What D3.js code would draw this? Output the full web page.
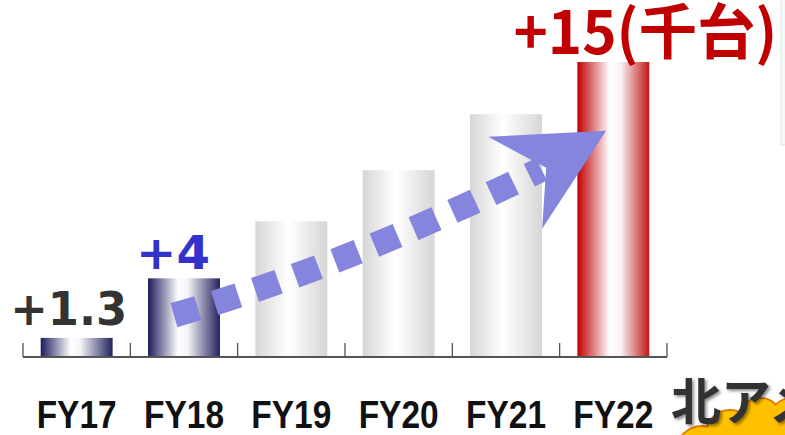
<!DOCTYPE html>
<html><head><meta charset="utf-8">
<script src="https://cdn.jsdelivr.net/npm/d3@7"></script>
<style>html,body{margin:0;padding:0;background:#fff;overflow:hidden}</style>
</head><body>
<svg id="c" width="785" height="435"></svg>
<script>
const categories = ["FY17","FY18","FY19","FY20","FY21","FY22"];
const values = [0.97, 4, 6.9, 9.5, 12.35, 15];
const barStyles = ["navy","navy","grey","grey","grey","red"];
const valueLabels = [
  {cat:"FY17", text:"+1.3", value:0.97},
  {cat:"FY18", text:"+4", value:4},
  {cat:"FY22", text:"+15(千台)", value:15}
];
const sideText = "北アメリカ";

const svg = d3.select("#c");
const x = d3.scaleBand().domain(categories).range([23, 667]).paddingInner(0.33).paddingOuter(0.165);
const y = d3.scaleLinear().domain([0, 15]).range([357, 62]);
const bw = x.bandwidth();

const defs = svg.append("defs");
const grads = {
  navy: [["0%","#1c1c5c"],["42%","#ffffff"],["55%","#f4f4f8"],["100%","#22225e"]],
  grey: [["0%","#d6d6d6"],["45%","#ffffff"],["55%","#f8f8f8"],["100%","#d6d6d6"]],
  red:  [["0%","#c00000"],["45%","#ffffff"],["60%","#fbf3f3"],["100%","#c01818"]]
};
Object.entries(grads).forEach(([k, stops]) => {
  const g = defs.append("linearGradient").attr("id","g-"+k).attr("x1","0").attr("x2","1").attr("y1","0").attr("y2","0");
  stops.forEach(s => g.append("stop").attr("offset", s[0]).attr("stop-color", s[1]));
});
const sh = defs.append("filter").attr("id","shadow").attr("x","-10%").attr("y","-10%").attr("width","130%").attr("height","130%");
sh.append("feDropShadow").attr("dx",2).attr("dy",2).attr("stdDeviation",1.5).attr("flood-color","#000").attr("flood-opacity",0.45);

// right edge panel
svg.append("rect").attr("x",781).attr("y",-5).attr("width",20).attr("height",150)
  .attr("fill","#f2f8f6").attr("stroke","#dde6e2");

// bars
svg.append("g").selectAll("rect").data(categories).join("rect")
  .attr("x", d => x(d))
  .attr("width", bw)
  .attr("y", (d,i) => y(values[i]))
  .attr("height", (d,i) => y(0) - y(values[i]))
  .attr("fill", (d,i) => `url(#g-${barStyles[i]})`);

// axis baseline and ticks at band boundaries
const step = x.step();
const half = (step - bw) / 2;
const bounds = categories.map(d => x(d) - half).concat([x(categories[categories.length-1]) + bw + half]);
const axisG = svg.append("g").attr("transform", `translate(0,${y(0)})`);
axisG.selectAll("line.tk").data(bounds).join("line").attr("class","tk")
  .attr("x1", d=>d).attr("x2", d=>d).attr("y1", 0).attr("y2", -14)
  .attr("stroke","#444").attr("stroke-width",1.2);
axisG.append("line").attr("x1", bounds[0]).attr("x2", bounds[bounds.length-1]).attr("y1",0).attr("y2",0)
  .attr("stroke","#555").attr("stroke-width",2);

// category labels
const xAxis = d3.axisBottom(x).tickSize(0).tickPadding(0);
const xg = svg.append("g").attr("transform", `translate(0,${y(0)})`).call(xAxis);
xg.select(".domain").remove();
xg.selectAll("text")
  .attr("dy", null).attr("y", 71)
  .attr("font-family", "'Liberation Sans',Arial,sans-serif")
  .attr("font-weight", "bold").attr("font-size", 39).attr("fill", "#111")
  .attr("textLength", 80).attr("lengthAdjust", "spacingAndGlyphs");

// dashed arrow (curve from FY18 bar to FY22 bar)
const b18 = x("FY18"), b22 = x("FY22");
const p0 = [b18 + bw*0.36, y(2.13)];
const tip = [b22 + bw*0.4, y(11.5)];
const p2 = [b22 - bw*0.5, y(9.55)];
const cp = [x("FY20") - bw*0.2, y(4.66)];
svg.append("path")
  .attr("d", `M${p0}Q${cp} ${p2}`)
  .attr("fill","none").attr("stroke","#8585dd").attr("stroke-width",25)
  .attr("stroke-dasharray","25 17.5");
// arrowhead: offsets from the tip
const headOffsets = [[0,0],[-118,6],[-60,37],[-64,98]];
const headPts = headOffsets.map(([u,v]) => [tip[0]+u, tip[1]+v]);
svg.append("path").attr("d", d3.line()(headPts) + "Z").attr("fill","#8585dd");

// value labels
const lab = svg.append("g");
lab.append("text").attr("x", x("FY17") + bw/2 - 8).attr("y", y(valueLabels[0].value) - 13)
  .attr("text-anchor","middle").attr("font-family","'DejaVu Sans',Verdana,sans-serif").attr("font-weight","bold")
  .attr("font-size",47).attr("fill","#333").attr("textLength",117).attr("lengthAdjust","spacingAndGlyphs")
  .text(valueLabels[0].text);
lab.append("text").attr("x", x("FY18") + bw/2 - 11).attr("y", y(valueLabels[1].value) - 9)
  .attr("text-anchor","middle").attr("font-family","'DejaVu Sans',Verdana,sans-serif").attr("font-weight","bold")
  .attr("font-size",47).attr("fill","#3333cc").attr("textLength",74).attr("lengthAdjust","spacingAndGlyphs")
  .text(valueLabels[1].text);
lab.append("text").attr("x", x("FY22") - 64).attr("y", y(valueLabels[2].value) - 8)
  .attr("text-anchor","start").attr("font-family","'Noto Sans CJK JP','DejaVu Sans',sans-serif").attr("font-weight","bold")
  .attr("font-size",60).attr("fill","#c00000").attr("textLength",264).attr("lengthAdjust","spacingAndGlyphs")
  .text(valueLabels[2].text);

// bottom-right decoration: cloud + text (partially cropped)
const cloudCircles = [[702,452,26],[730,434,24],[760,420,22],[792,422,24],[748,455,30],[782,455,30]];
const cloud = svg.append("g");
cloud.selectAll("circle.o").data(cloudCircles).join("circle").attr("class","o")
  .attr("cx",d=>d[0]).attr("cy",d=>d[1]).attr("r",d=>d[2]).attr("fill","#ffc000").attr("stroke","#e07800").attr("stroke-width",2);
cloud.selectAll("circle.i").data(cloudCircles).join("circle").attr("class","i")
  .attr("cx",d=>d[0]).attr("cy",d=>d[1]).attr("r",d=>d[2]-1).attr("fill","#ffc000");
svg.append("text").attr("x",671).attr("y",420)
  .attr("font-family","'Noto Sans CJK JP',sans-serif").attr("font-weight","bold")
  .attr("font-size",50).attr("fill","#333").attr("filter","url(#shadow)")
  .text(sideText);
</script>
</body></html>
